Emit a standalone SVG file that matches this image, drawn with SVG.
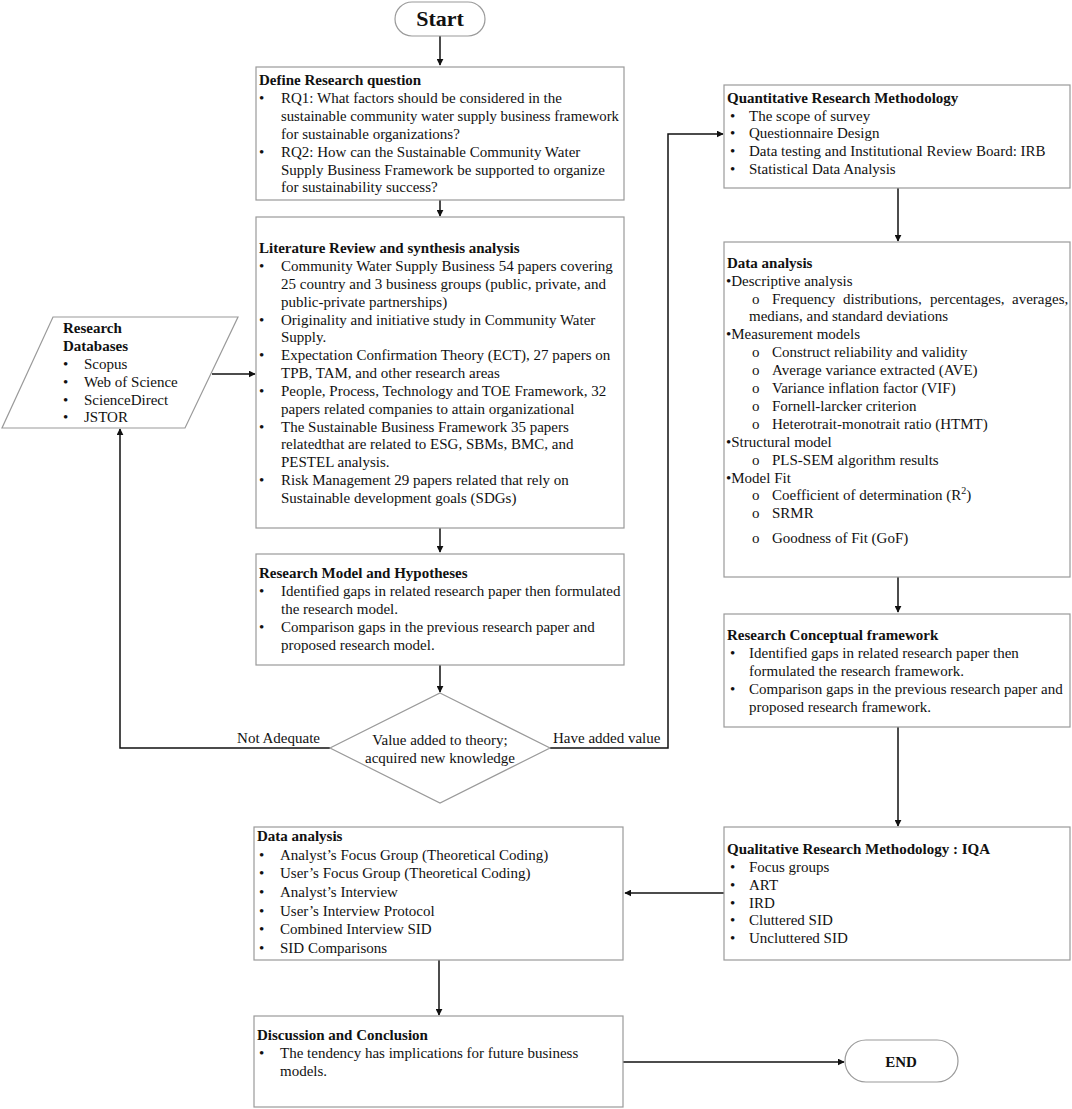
<svg xmlns="http://www.w3.org/2000/svg" width="1072" height="1109" viewBox="0 0 1072 1109">
<style>
text{font-family:"Liberation Serif","Times New Roman",serif;font-size:15px;fill:#111}
.b{font-weight:bold}
.box{fill:#fff;stroke:#9a9a9a;stroke-width:1.2}
.c{fill:none;stroke:#111;stroke-width:1.5}
</style>
<defs>
<marker id="ah" viewBox="0 0 10 10" refX="9" refY="5" markerWidth="7" markerHeight="7" orient="auto" markerUnits="userSpaceOnUse">
<path d="M0,0 L10,5 L0,10 z" fill="#111"/>
</marker>
</defs>
<rect width="1072" height="1109" fill="#fff"/>

<g id="connectors">
<path class="c" d="M440,36 V65" marker-end="url(#ah)"/>
<path class="c" d="M440,200 V216" marker-end="url(#ah)"/>
<path class="c" d="M440,528 V552" marker-end="url(#ah)"/>
<path class="c" d="M440,665 V692" marker-end="url(#ah)"/>
<path class="c" d="M212,374 H255" marker-end="url(#ah)"/>
<path class="c" d="M330,748 H120 V429" marker-end="url(#ah)"/>
<path class="c" d="M550,748 H668 V134 H723" marker-end="url(#ah)"/>
<path class="c" d="M898,188 V241" marker-end="url(#ah)"/>
<path class="c" d="M898,577 V612" marker-end="url(#ah)"/>
<path class="c" d="M898,727 V826" marker-end="url(#ah)"/>
<path class="c" d="M724,893 H625" marker-end="url(#ah)"/>
<path class="c" d="M439,960 V1015" marker-end="url(#ah)"/>
<path class="c" d="M623,1062 H844" marker-end="url(#ah)"/>
<text x="320" y="743" text-anchor="end">Not Adequate</text>
<text x="553" y="743">Have added value</text>
</g>

<g id="start">
<rect class="box" x="395" y="2" width="90" height="34" rx="17"/>
<text class="b" x="440" y="26" text-anchor="middle" style="font-size:22px">Start</text>
</g>

<g id="define">
<rect class="box" x="256" y="67" width="368" height="133"/>
<text class="b" x="259" y="85">Define Research question</text>
<text x="259" y="103">•</text><text x="281" y="103">RQ1: What factors should be considered in the</text>
<text x="281" y="121" textLength="338" lengthAdjust="spacingAndGlyphs">sustainable community water supply business framework</text>
<text x="281" y="139">for sustainable organizations?</text>
<text x="259" y="157">•</text><text x="281" y="157">RQ2: How can the Sustainable Community Water</text>
<text x="281" y="175">Supply Business Framework be supported to organize</text>
<text x="281" y="192">for sustainability success?</text>
</g>

<g id="literature">
<rect class="box" x="256" y="217" width="368" height="311"/>
<text class="b" x="259" y="253">Literature Review and synthesis analysis</text>
<text x="259" y="271">•</text><text x="281" y="271">Community Water Supply Business 54 papers covering</text>
<text x="281" y="289">25 country and 3 business groups (public, private, and</text>
<text x="281" y="307">public-private partnerships)</text>
<text x="259" y="325">•</text><text x="281" y="325">Originality and initiative study in Community Water</text>
<text x="281" y="342">Supply.</text>
<text x="259" y="360">•</text><text x="281" y="360">Expectation Confirmation Theory (ECT), 27 papers on</text>
<text x="281" y="378">TPB, TAM, and other research areas</text>
<text x="259" y="396">•</text><text x="281" y="396">People, Process, Technology and TOE Framework, 32</text>
<text x="281" y="414">papers related companies to attain organizational</text>
<text x="259" y="432">•</text><text x="281" y="432">The Sustainable Business Framework 35 papers</text>
<text x="281" y="449">relatedthat are related to ESG, SBMs, BMC, and</text>
<text x="281" y="467">PESTEL analysis.</text>
<text x="259" y="485">•</text><text x="281" y="485">Risk Management 29 papers related that rely on</text>
<text x="281" y="503">Sustainable development goals (SDGs)</text>
</g>

<g id="databases">
<polygon class="box" points="53,317 238,317 185,428 2,428"/>
<text class="b" x="63" y="333">Research</text>
<text class="b" x="63" y="351">Databases</text>
<text x="63" y="369">•</text><text x="84" y="369">Scopus</text>
<text x="63" y="387">•</text><text x="84" y="387">Web of Science</text>
<text x="63" y="405">•</text><text x="84" y="405">ScienceDirect</text>
<text x="63" y="422">•</text><text x="84" y="422">JSTOR</text>
</g>

<g id="model">
<rect class="box" x="256" y="554" width="368" height="111"/>
<text class="b" x="259" y="578">Research Model and Hypotheses</text>
<text x="259" y="596">•</text><text x="281" y="596">Identified gaps in related research paper then formulated</text>
<text x="281" y="614">the research model.</text>
<text x="259" y="632">•</text><text x="281" y="632">Comparison gaps in the previous research paper and</text>
<text x="281" y="650">proposed research model.</text>
</g>

<g id="decision">
<polygon class="box" points="440,693 550,748 440,803 330,748"/>
<text x="440" y="745" text-anchor="middle">Value added to theory;</text>
<text x="440" y="763" text-anchor="middle">acquired new knowledge</text>
</g>

<g id="quantitative">
<rect class="box" x="724" y="85" width="346" height="103"/>
<text class="b" x="727" y="103">Quantitative Research Methodology</text>
<text x="730" y="121">•</text><text x="749" y="121">The scope of survey</text>
<text x="730" y="138">•</text><text x="749" y="138">Questionnaire Design</text>
<text x="730" y="156">•</text><text x="749" y="156">Data testing and Institutional Review Board: IRB</text>
<text x="730" y="174">•</text><text x="749" y="174">Statistical Data Analysis</text>
</g>

<g id="data-analysis-quant">
<rect class="box" x="724" y="242" width="346" height="335"/>
<text class="b" x="727" y="268">Data analysis</text>
<text x="726" y="286">•Descriptive analysis</text>
<text x="752" y="304">o</text>
<text y="304"><tspan x="772">Frequency</tspan><tspan x="843">distributions,</tspan><tspan x="930">percentages,</tspan><tspan x="1012">averages,</tspan></text>
<text x="749" y="321">medians, and standard deviations</text>
<text x="726" y="339">•Measurement models</text>
<text x="752" y="357">o</text><text x="772" y="357">Construct reliability and validity</text>
<text x="752" y="375">o</text><text x="772" y="375">Average variance extracted (AVE)</text>
<text x="752" y="393">o</text><text x="772" y="393">Variance inflation factor (VIF)</text>
<text x="752" y="411">o</text><text x="772" y="411">Fornell-larcker criterion</text>
<text x="752" y="429">o</text><text x="772" y="429">Heterotrait-monotrait ratio (HTMT)</text>
<text x="726" y="447">•Structural model</text>
<text x="752" y="465">o</text><text x="772" y="465">PLS-SEM algorithm results</text>
<text x="726" y="483">•Model Fit</text>
<text x="752" y="500">o</text><text x="772" y="500">Coefficient of determination (R<tspan dy="-6" style="font-size:10px">2</tspan><tspan dy="6">)</tspan></text>
<text x="752" y="518">o</text><text x="772" y="518">SRMR</text>
<text x="752" y="543">o</text><text x="772" y="543">Goodness of Fit (GoF)</text>
</g>

<g id="conceptual">
<rect class="box" x="724" y="614" width="346" height="113"/>
<text class="b" x="727" y="640">Research Conceptual framework</text>
<text x="730" y="658">•</text><text x="749" y="658">Identified gaps in related research paper then</text>
<text x="749" y="676">formulated  the research framework.</text>
<text x="730" y="694">•</text><text x="749" y="694">Comparison gaps in the previous research paper and</text>
<text x="749" y="712">proposed research framework.</text>
</g>

<g id="qualitative">
<rect class="box" x="724" y="827" width="346" height="133"/>
<text class="b" x="727" y="854">Qualitative Research Methodology : IQA</text>
<text x="730" y="872">•</text><text x="749" y="872">Focus groups</text>
<text x="730" y="890">•</text><text x="749" y="890">ART</text>
<text x="730" y="908">•</text><text x="749" y="908">IRD</text>
<text x="730" y="925">•</text><text x="749" y="925">Cluttered SID</text>
<text x="730" y="943">•</text><text x="749" y="943">Uncluttered SID</text>
</g>

<g id="data-analysis-qual">
<rect class="box" x="254" y="827" width="369" height="133"/>
<text class="b" x="257" y="841">Data analysis</text>
<text x="259" y="860">•</text><text x="280" y="860">Analyst’s Focus Group (Theoretical Coding)</text>
<text x="259" y="878">•</text><text x="280" y="878">User’s Focus Group (Theoretical Coding)</text>
<text x="259" y="897">•</text><text x="280" y="897">Analyst’s Interview</text>
<text x="259" y="916">•</text><text x="280" y="916">User’s Interview Protocol</text>
<text x="259" y="934">•</text><text x="280" y="934">Combined Interview SID</text>
<text x="259" y="953">•</text><text x="280" y="953">SID Comparisons</text>
</g>

<g id="discussion">
<rect class="box" x="254" y="1016" width="369" height="91"/>
<text class="b" x="257" y="1040">Discussion and Conclusion</text>
<text x="259" y="1058">•</text><text x="280" y="1058">The tendency has implications for future business</text>
<text x="280" y="1076">models.</text>
</g>

<g id="end">
<rect class="box" x="845" y="1040" width="113" height="42" rx="21"/>
<text class="b" x="901" y="1067" text-anchor="middle">END</text>
</g>
</svg>
